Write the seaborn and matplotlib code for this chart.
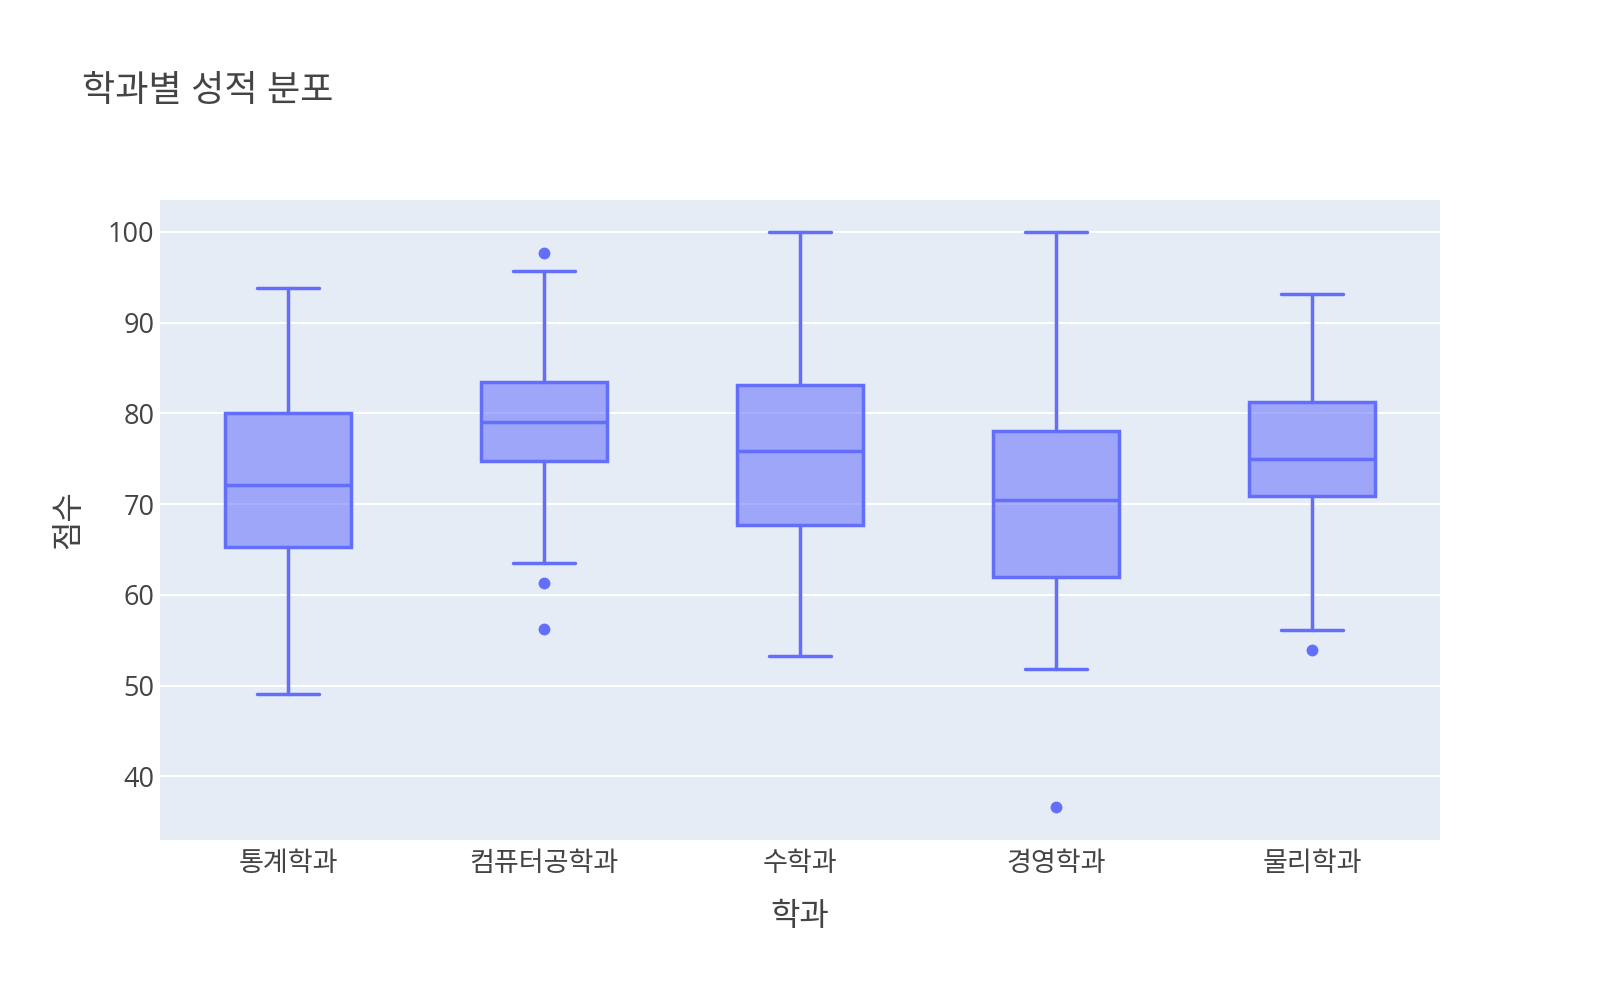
import numpy as np
import pandas as pd
import matplotlib
matplotlib.use("Agg")
import matplotlib.pyplot as plt
import seaborn as sns

# 학과별 요약 통계
departments = ["통계학과", "컴퓨터공학과", "수학과", "경영학과", "물리학과"]
whisker_low = [49.1, 63.5, 53.3, 51.8, 56.1]
q1 = [65.3, 74.8, 67.7, 62.0, 70.9]
median = [72.1, 79.1, 75.8, 70.5, 75.0]
q3 = [80.0, 83.5, 83.1, 78.0, 81.3]
whisker_high = [93.8, 95.7, 100.0, 100.0, 93.1]
outliers = [[], [97.7, 61.3, 56.2], [], [36.6], [53.9]]

sns.set_theme(style="darkgrid")
plt.rcParams["font.family"] = ["Open Sans", "Noto Sans CJK KR", "DejaVu Sans"]

color = "#636efa"
text_color = "#444444"

fig = plt.figure(figsize=(16, 10), dpi=100)
ax = fig.add_axes([0.1, 0.16, 0.8, 0.64])
ax.set_facecolor("#E5ECF6")

stats = []
for i, d in enumerate(departments):
    stats.append({"label": d, "whislo": whisker_low[i], "q1": q1[i], "med": median[i],
                  "q3": q3[i], "whishi": whisker_high[i], "fliers": []})

ax.bxp(stats, positions=range(len(departments)), widths=0.49, capwidths=0.24,
       patch_artist=True, showfliers=False,
       boxprops=dict(facecolor=(0.388, 0.431, 0.980, 0.55), edgecolor=color, linewidth=2.5),
       medianprops=dict(color=color, linewidth=2.5),
       whiskerprops=dict(color=color, linewidth=2.5),
       capprops=dict(color=color, linewidth=2.5))

out_df = pd.DataFrame([(d, v) for d, vals in zip(departments, outliers) for v in vals],
                      columns=["학과", "점수"])
sns.stripplot(data=out_df, x="학과", y="점수", order=departments, jitter=False,
              color=color, size=8.5, linewidth=0, ax=ax, zorder=5)

ax.set_xlim(-0.5, 4.5)
ax.set_ylim(33.0, 103.5)
ax.set_yticks([40, 50, 60, 70, 80, 90, 100])
ax.set_xticks(range(len(departments)))
ax.set_xticklabels(departments)
ax.grid(axis="y", color="white", linewidth=1.5)
ax.grid(axis="x", visible=False)
ax.tick_params(axis="x", length=0, labelsize=19.5, colors=text_color, pad=7)
ax.tick_params(axis="y", length=0, labelsize=19.5, colors=text_color, pad=4)
for s in ax.spines.values():
    s.set_visible(False)

ax.set_xlabel("학과", fontsize=23, color=text_color, labelpad=16)
ax.set_ylabel("점수", fontsize=23, color=text_color, labelpad=16)
fig.text(0.051, 0.908, "학과별 성적 분포", fontsize=26, color=text_color, va="center")

fig.savefig("out.png", dpi=100, facecolor="white")
